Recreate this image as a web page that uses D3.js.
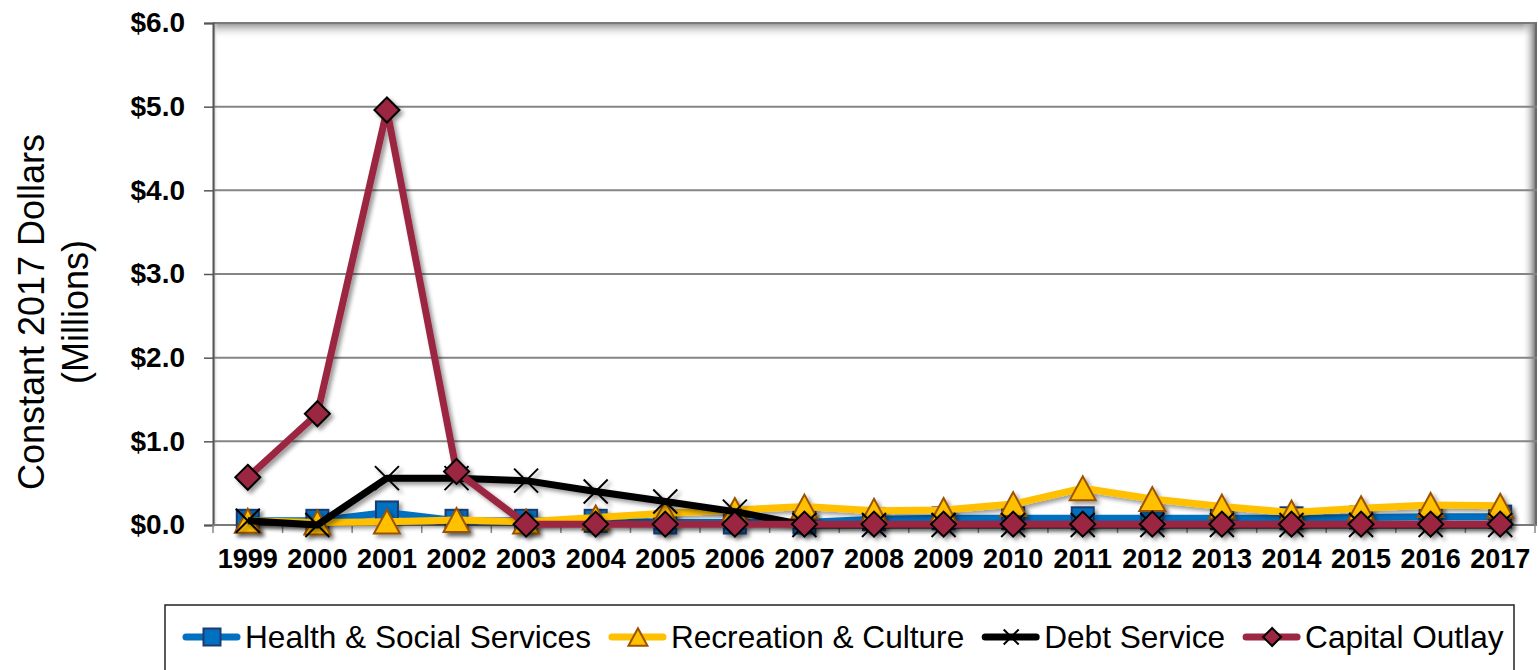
<!DOCTYPE html>
<html>
<head>
<meta charset="utf-8">
<script src="https://cdn.jsdelivr.net/npm/d3@7"></script>
<style>
  body { margin: 0; background: #fff; }
  svg { display: block; font-family: "Liberation Sans", Arial, sans-serif; }
</style>
</head>
<body>
<div id="chart"></div>
<script>
// Data (millions, constant 2017 dollars).
const years = ["1999","2000","2001","2002","2003","2004","2005","2006","2007","2008",
  "2009","2010","2011","2012","2013","2014","2015","2016","2017"];
const health = [0.05,0.05,0.15,0.05,0.05,0.05,0.03,0.03,0.03,0.07,0.08,0.08,0.08,0.08,0.08,0.08,0.09,0.10,0.10];
const recreation = [0.05,0.03,0.04,0.06,0.04,0.09,0.14,0.18,0.22,0.17,0.18,0.25,0.44,0.31,0.22,0.15,0.20,0.24,0.23];
const debt = [0.05,0.00,0.56,0.56,0.53,0.40,0.28,0.16,0.00,0.00,0.00,0.00,0.00,0.00,0.00,0.00,0.00,0.00,0.00];
const capital = [0.57,1.33,4.96,0.64,0.01,0.01,0.01,0.01,0.01,0.01,0.01,0.01,0.01,0.01,0.01,0.01,0.01,0.01,0.01];
const yTicks = [0,1,2,3,4,5,6];

const seriesNames = ["Health & Social Services","Recreation & Culture","Debt Service","Capital Outlay"];

const W = 1538, H = 670;
const plot = { left: 213, right: 1535, top: 23, bottom: 525 };

const styles = {
  "Health & Social Services": { color: "#0070C0", marker: "square", fill: "#0070C0", stroke: "#1F3B6E", values: health },
  "Recreation & Culture": { color: "#FFC000", marker: "triangle", fill: "#FFC000", stroke: "#9C5200", values: recreation },
  "Debt Service": { color: "#000000", marker: "x", fill: "none", stroke: "#000000", values: debt },
  "Capital Outlay": { color: "#9B2743", marker: "diamond", fill: "#9B2743", stroke: "#000000", values: capital }
};

const svg = d3.select("#chart").append("svg")
  .attr("width", W)
  .attr("height", H);

const defs = svg.append("defs");
const shadow = defs.append("filter").attr("id", "shadow")
  .attr("x", "-30%").attr("y", "-30%").attr("width", "160%").attr("height", "160%");
shadow.append("feDropShadow")
  .attr("dx", 3).attr("dy", 3).attr("stdDeviation", 2.2)
  .attr("flood-color", "#000").attr("flood-opacity", 0.4);

const gTop = defs.append("linearGradient").attr("id", "gTop").attr("x1", 0).attr("x2", 0).attr("y1", 0).attr("y2", 1);
gTop.append("stop").attr("offset", "0%").attr("stop-color", "#8f8f8f");
gTop.append("stop").attr("offset", "100%").attr("stop-color", "#ffffff").attr("stop-opacity", 0);
const gRight = defs.append("linearGradient").attr("id", "gRight").attr("x1", 0).attr("x2", 1).attr("y1", 0).attr("y2", 0);
gRight.append("stop").attr("offset", "0%").attr("stop-color", "#ffffff").attr("stop-opacity", 0);
gRight.append("stop").attr("offset", "100%").attr("stop-color", "#808080");
const gLeft = defs.append("linearGradient").attr("id", "gLeft").attr("x1", 0).attr("x2", 1).attr("y1", 0).attr("y2", 0);
gLeft.append("stop").attr("offset", "0%").attr("stop-color", "#9a9a9a");
gLeft.append("stop").attr("offset", "100%").attr("stop-color", "#ffffff").attr("stop-opacity", 0);

// Scales
const x = d3.scaleBand().domain(years).range([plot.left, plot.right]);
const y = d3.scaleLinear().domain([0, 6]).range([plot.bottom, plot.top]);
const cx = d => x(d) + x.bandwidth() / 2;

// Plot area bevel shading
svg.append("rect")
  .attr("x", plot.left).attr("y", plot.top)
  .attr("width", plot.right - plot.left).attr("height", 16)
  .attr("fill", "url(#gTop)");
svg.append("rect")
  .attr("x", plot.right - 13).attr("y", plot.top)
  .attr("width", 13).attr("height", plot.bottom - plot.top)
  .attr("fill", "url(#gRight)");
svg.append("rect")
  .attr("x", plot.left).attr("y", plot.top)
  .attr("width", 5).attr("height", plot.bottom - plot.top)
  .attr("fill", "url(#gLeft)");
svg.append("line")
  .attr("x1", plot.left).attr("x2", plot.right + 2)
  .attr("y1", plot.top).attr("y2", plot.top)
  .attr("stroke", "#7a7a7a").attr("stroke-width", 2);
svg.append("line")
  .attr("x1", plot.right + 1).attr("x2", plot.right + 1)
  .attr("y1", plot.top).attr("y2", plot.bottom)
  .attr("stroke", "#6a6a6a").attr("stroke-width", 2);

// Gridlines
svg.append("g").selectAll("line")
  .data(yTicks.filter(d => d > 0 && d < 6))
  .join("line")
  .attr("x1", plot.left).attr("x2", plot.right + 2)
  .attr("y1", d => y(d)).attr("y2", d => y(d))
  .attr("stroke", "#858585").attr("stroke-width", 2);

// Y axis
const yAxis = svg.append("g")
  .attr("transform", `translate(${plot.left},0)`)
  .call(d3.axisLeft(y).tickValues(yTicks).tickSize(9).tickPadding(19).tickFormat(d => "$" + d.toFixed(1)));
yAxis.select(".domain").attr("stroke", "#555").attr("stroke-width", 2);
yAxis.selectAll(".tick line").attr("stroke", "#555").attr("stroke-width", 1.5);
yAxis.selectAll("text")
  .attr("fill", "#000")
  .style("font-size", "28px")
  .style("font-weight", "bold")
  .style("font-family", "'Liberation Sans', Arial, sans-serif");

// X axis (ticks between categories)
const xAxisG = svg.append("g").attr("transform", `translate(0,${plot.bottom})`);
xAxisG.append("line")
  .attr("x1", plot.left).attr("x2", plot.right + 2)
  .attr("y1", 0).attr("y2", 0)
  .attr("stroke", "#7a7a7a").attr("stroke-width", 2);
xAxisG.selectAll(".xtick")
  .data(years.concat(["end"]))
  .join("line")
  .attr("class", "xtick")
  .attr("x1", d => d === "end" ? plot.right : x(d))
  .attr("x2", d => d === "end" ? plot.right : x(d))
  .attr("y1", 0).attr("y2", 8)
  .attr("stroke", "#888").attr("stroke-width", 1.5);
xAxisG.selectAll(".xlab")
  .data(years)
  .join("text")
  .attr("class", "xlab")
  .attr("x", d => cx(d))
  .attr("y", 43)
  .attr("text-anchor", "middle")
  .style("font-size", "27px")
  .style("font-weight", "bold")
  .text(d => d);

// Y axis title
const yTitle = svg.append("text")
  .attr("transform", "translate(44,312) rotate(-90)")
  .attr("text-anchor", "middle")
  .style("font-size", "36px");
yTitle.append("tspan").attr("x", 0).attr("dy", 0).text("Constant 2017 Dollars");
yTitle.append("tspan").attr("x", 0).attr("dy", 44).text("(Millions)");

// Marker drawing
function drawMarker(sel, type, size, fill, stroke) {
  const s = size;
  if (type === "square") {
    sel.append("rect")
      .attr("x", -s / 2).attr("y", -s / 2).attr("width", s).attr("height", s)
      .attr("fill", fill).attr("stroke", stroke).attr("stroke-width", 2);
  } else if (type === "triangle") {
    const h = s * 0.92;
    sel.append("path")
      .attr("d", `M0,${-h / 2}L${s / 2},${h / 2}L${-s / 2},${h / 2}Z`)
      .attr("fill", fill).attr("stroke", stroke).attr("stroke-width", 2).attr("stroke-linejoin", "miter");
  } else if (type === "diamond") {
    sel.append("path")
      .attr("d", `M0,${-s / 2}L${s / 2},0L0,${s / 2}L${-s / 2},0Z`)
      .attr("fill", fill).attr("stroke", stroke).attr("stroke-width", 2);
  } else if (type === "x") {
    sel.append("path")
      .attr("d", `M${-s / 2},${-s / 2}L${s / 2},${s / 2}M${s / 2},${-s / 2}L${-s / 2},${s / 2}`)
      .attr("fill", "none").attr("stroke", stroke).attr("stroke-width", 2);
  }
}

const markerSize = { square: 22, triangle: 26, diamond: 25, x: 24 };

const line = d3.line()
  .x(d => cx(d.year))
  .y(d => y(d.value));

// Series
seriesNames.forEach(name => {
  const st = styles[name];
  const pts = years.map((yr, i) => ({ year: yr, value: st.values[i] }));
  const g = svg.append("g").attr("filter", "url(#shadow)");
  g.append("path")
    .datum(pts)
    .attr("d", line)
    .attr("fill", "none")
    .attr("stroke", st.color)
    .attr("stroke-width", 7)
    .attr("stroke-linejoin", "round");
  g.selectAll(".m")
    .data(pts)
    .join("g")
    .attr("class", "m")
    .attr("transform", d => `translate(${cx(d.year)},${y(d.value)})`)
    .each(function () {
      drawMarker(d3.select(this), st.marker, markerSize[st.marker], st.fill, st.stroke);
    });
});

// Legend
const legend = svg.append("g");
legend.append("rect")
  .attr("x", 165).attr("y", 605)
  .attr("width", 1514 - 165).attr("height", 80)
  .attr("fill", "#fff").attr("stroke", "#222").attr("stroke-width", 1.5);

const legendMarker = { square: 17, triangle: 19, diamond: 18, x: 15 };
let lx = 183;
seriesNames.forEach(name => {
  const st = styles[name];
  const item = legend.append("g");
  item.append("line")
    .attr("x1", lx + 3).attr("x2", lx + 54)
    .attr("y1", 637).attr("y2", 637)
    .attr("stroke", st.color).attr("stroke-width", 7).attr("stroke-linecap", "round");
  const mg = item.append("g").attr("transform", `translate(${lx + 29},637)`);
  drawMarker(mg, st.marker, legendMarker[st.marker], st.fill, st.stroke);
  const t = item.append("text")
    .attr("x", lx + 62).attr("y", 648)
    .style("font-size", "31.6px")
    .text(name);
  lx += 62 + t.node().getComputedTextLength() + 18;
});
</script>
</body>
</html>
